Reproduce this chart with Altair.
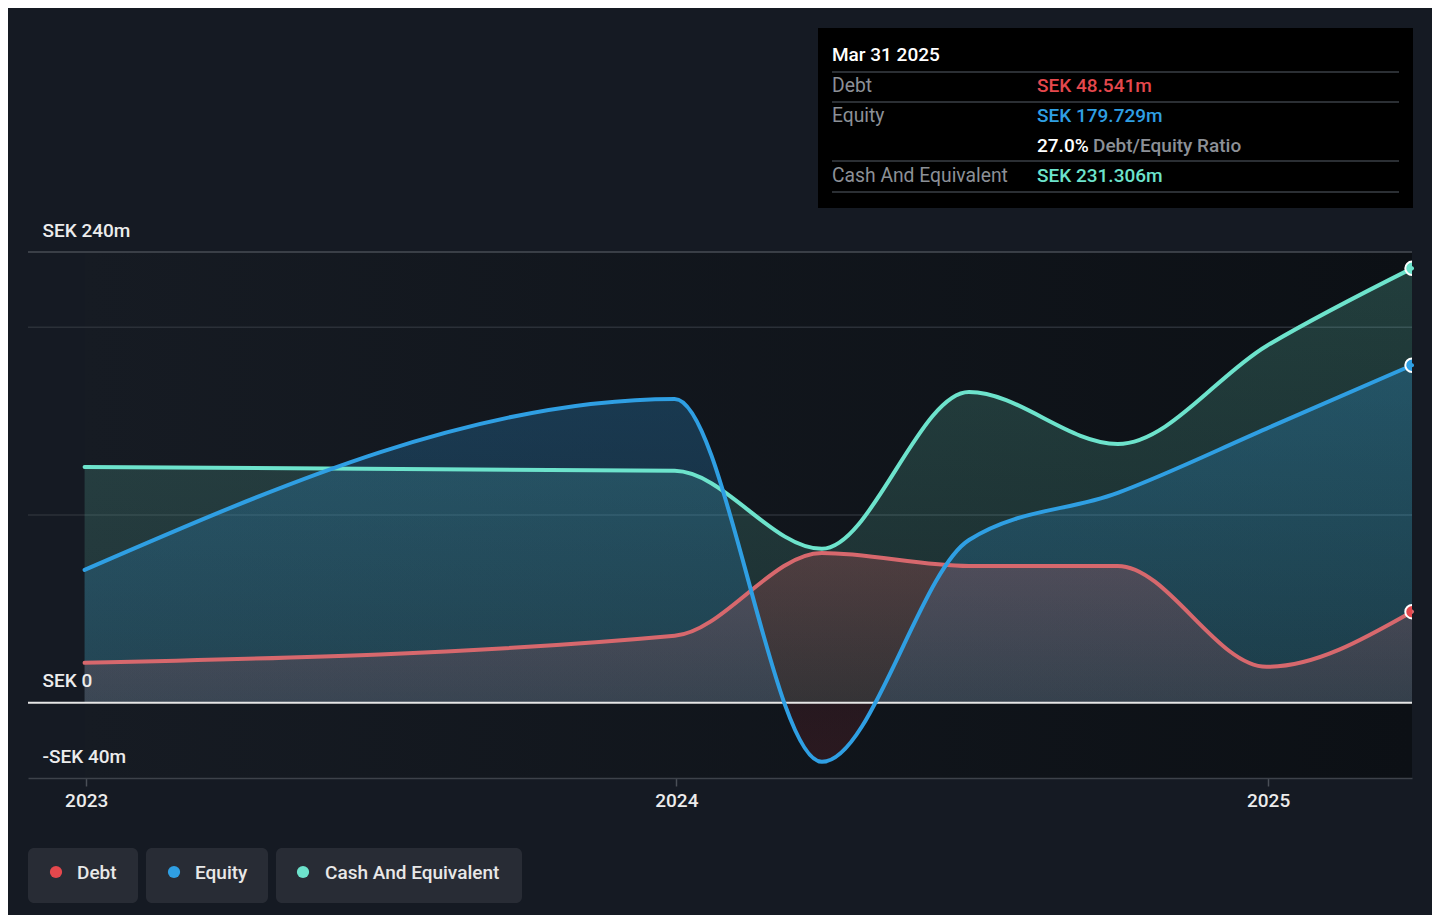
import altair as alt
import pandas as pd

# ---------------- data ----------------
dates = ["2022-12-31", "2023-12-31", "2024-03-31", "2024-06-30", "2024-09-30", "2024-12-31", "2025-03-31"]
debt = [21.3, 35.7, 79.8, 72.9, 72.9, 19.2, 48.541]
equity = [70.8, 161.8, -31.4, 86.7, 111.8, 146.0, 179.729]
cash = [125.6, 123.5, 82.0, 165.5, 137.8, 190.0, 231.306]
series_names = ["Debt", "Equity", "Cash And Equivalent"]
y_ticks = [-40, 0, 100, 200, 240]
grid_values = [100, 200, 240]

tip_date = "Mar 31 2025"
tip_debt = "SEK 48.541m"
tip_equity = "SEK 179.729m"
tip_ratio = "27.0%"
tip_ratio_label = "Debt/Equity Ratio"
tip_cash = "SEK 231.306m"

# ---------------- styles ----------------
BG = "#151a23"
FONT = "Roboto"
C_DEBT, C_EQ, C_CASH = "#e5484d", "#2f9fe3", "#6de3cc"
L_DEBT = "#d7686d"

rows = []
for name, vals in zip(series_names, [debt, equity, cash]):
    for d, v in zip(dates, vals):
        rows.append({"date": d, "series": name, "value": v})
df = pd.DataFrame(rows)
end_df = pd.DataFrame({"date": [dates[-1]] * 3, "series": series_names,
                       "value": [debt[-1], equity[-1], cash[-1]]})
one = pd.DataFrame({"a": [0]})

xscale = alt.Scale(type="utc", domain=[alt.DateTime(year=2022, month=11, date=26, utc=True),
                                       alt.DateTime(year=2025, month=3, date=31, utc=True)])
yscale = alt.Scale(domain=[-40, 240], nice=False, zero=False)

xaxis = alt.Axis(values=[alt.DateTime(year=y, month=1, date=1, utc=True) for y in (2023, 2024, 2025)],
                 format="%Y", title=None, grid=False, domainColor="#3d424a", domainWidth=1.5,
                 tickColor="#4a4f57", tickSize=8, tickWidth=1.5, labelColor="#ececec",
                 labelFontSize=19, labelFont=FONT, labelFontWeight=500, labelPadding=5,
                 labelFlush=False, labelOverlap=False, zindex=1)
yaxis = alt.Axis(values=y_ticks, title=None, domain=False, ticks=False, grid=False,
                 labelExpr="datum.value == 0 ? 'SEK 0' : (datum.value < 0 ? '-SEK ' + abs(datum.value) + 'm' : (datum.value == 240 ? 'SEK 240m' : ''))",
                 labelAlign="left", labelBaseline="alphabetic", labelPadding=-14, labelOffset=-16,
                 labelColor="#ececec", labelFontSize=19, labelFont=FONT, labelFontWeight=500,
                 labelOverlap=False, labelBound=False, zindex=1)

X = alt.X("date:T", scale=xscale, axis=xaxis)
Y = alt.Y("value:Q", scale=yscale, axis=yaxis, stack=None)

# background gradient behind the data
bg_rect = alt.Chart(pd.DataFrame({"start": [dates[0]], "end": [dates[-1]]})).mark_rect(
    color=alt.Gradient(gradient="linear", x1=0, x2=1, y1=0, y2=0,
                       stops=[alt.GradientStop(color="#161b23", offset=0),
                              alt.GradientStop(color="#0c1015", offset=1)])
).encode(x=alt.X("start:T", scale=xscale, axis=xaxis), x2="end:T",
         y=alt.datum(240, scale=yscale, axis=yaxis), y2=alt.datum(-40))

grid = alt.Chart(pd.DataFrame({"v": grid_values})).mark_rule(strokeWidth=1.5).encode(
    y=alt.Y("v:Q", scale=yscale, axis=yaxis),
    color=alt.condition(alt.datum.v == 240, alt.value("#474c54"), alt.value("#2b3038")))

base = alt.Chart(df)


def grad(rgb, a_top, a_bot):
    return alt.Gradient(gradient="linear", x1=0, x2=0, y1=0, y2=1,
                        stops=[alt.GradientStop(color=f"rgba({rgb},{a_top})", offset=0),
                               alt.GradientStop(color=f"rgba({rgb},{a_bot})", offset=1)])


def area(name, fill):
    return base.transform_filter(alt.datum.series == name).mark_area(
        interpolate="monotone", color=fill).encode(x=X, y=Y)


def line(name, col):
    return base.transform_filter(alt.datum.series == name).mark_line(
        interpolate="monotone", color=col, strokeWidth=4, strokeCap="round").encode(x=X, y=Y)


# equity fill turns red below zero (gradient split at the zero line of its bounding box)
eq_top, eq_bot = max(max(equity), 0), min(min(equity), 0)
z = eq_top / (eq_top - eq_bot)
eq_fill = alt.Gradient(gradient="linear", x1=0, x2=0, y1=0, y2=1, stops=[
    alt.GradientStop(color="rgba(46,155,224,0.27)", offset=0),
    alt.GradientStop(color="rgba(46,155,224,0.16)", offset=z - 0.001),
    alt.GradientStop(color="rgba(200,50,60,0.12)", offset=z),
    alt.GradientStop(color="rgba(200,50,60,0.14)", offset=1),
])

areas = [
    area("Cash And Equivalent", grad("110,224,200", 0.22, 0.12)),
    area("Equity", eq_fill),
    area("Debt", grad("230,90,95", 0.24, 0.12)),
]

zero = alt.Chart(pd.DataFrame({"v": [0]})).mark_rule(color="#e6e6e6", strokeWidth=2).encode(
    y=alt.Y("v:Q", scale=yscale, axis=yaxis))

lines = [line("Debt", L_DEBT), line("Cash And Equivalent", C_CASH), line("Equity", C_EQ)]

ends = alt.Chart(end_df).mark_circle(size=180, opacity=1, stroke="white", strokeWidth=2,
                                      clip=True).encode(
    x=X, y=Y,
    color=alt.Color("series:N", scale=alt.Scale(domain=series_names, range=[C_DEBT, C_EQ, C_CASH]),
                    legend=None))

# ---------------- tooltip box ----------------
def txt(s, x, y, color, size=19, weight=400):
    return alt.Chart(one).mark_text(text=s, align="left", baseline="middle", font=FONT,
                                     fontSize=size, fontWeight=weight, color=color).encode(
        x=alt.value(x), y=alt.value(y))


def hline(x1, x2, y, color="#3a3f46"):
    return alt.Chart(one).mark_rule(color=color, strokeWidth=1.5).encode(
        x=alt.value(x1), x2=alt.value(x2), y=alt.value(y))


tip_box = alt.Chart(one).mark_rect(color="#000000").encode(
    x=alt.value(790), x2=alt.value(1385), y=alt.value(-224), y2=alt.value(-44))
GRAY = "#8c9097"
tip = [
    tip_box,
    txt(tip_date, 804, -197, "#ffffff", 19, 500),
    hline(804, 1371, -180),
    txt("Debt", 804, -166, GRAY, 19.3),
    txt(tip_debt, 1009, -166, C_DEBT, 19, 500),
    hline(804, 1371, -150),
    txt("Equity", 804, -136, GRAY, 19.3),
    txt(tip_equity, 1009, -136, C_EQ, 19, 500),
    txt(tip_ratio, 1009, -106, "#ffffff", 19, 500),
    txt(tip_ratio_label, 1065, -106, GRAY, 19, 500),
    hline(804, 1371, -91),
    txt("Cash And Equivalent", 804, -76, GRAY, 19.3),
    txt(tip_cash, 1009, -76, C_CASH, 19, 500),
    hline(804, 1371, -60),
]

# ---------------- legend ----------------
PILL = "#282c35"


def pill(x1, x2):
    return alt.Chart(one).mark_rect(color=PILL, cornerRadius=6).encode(
        x=alt.value(x1), x2=alt.value(x2), y=alt.value(596), y2=alt.value(651))


def dot(x, col):
    return alt.Chart(one).mark_circle(color=col, size=150, opacity=1).encode(
        x=alt.value(x), y=alt.value(620))


legend = [
    pill(0, 110), dot(28, C_DEBT), txt(series_names[0], 49, 621, "#e8e8e8", 19, 500),
    pill(118, 240), dot(146, C_EQ), txt(series_names[1], 167, 621, "#e8e8e8", 19, 500),
    pill(248, 494), dot(275, C_CASH), txt(series_names[2], 297, 621, "#e8e8e8", 19, 500),
]

chart = alt.layer(bg_rect, grid, *areas, zero, *lines, ends, *tip, *legend).properties(
    width=1384, height=526,
    padding={"left": 20, "top": 244, "right": 20, "bottom": 137},
    autosize=alt.AutoSizeParams(type="none"),
    background=BG,
).configure_view(strokeWidth=0)

chart.save("out.html", embed_options={"renderer": "svg", "actions": False})
